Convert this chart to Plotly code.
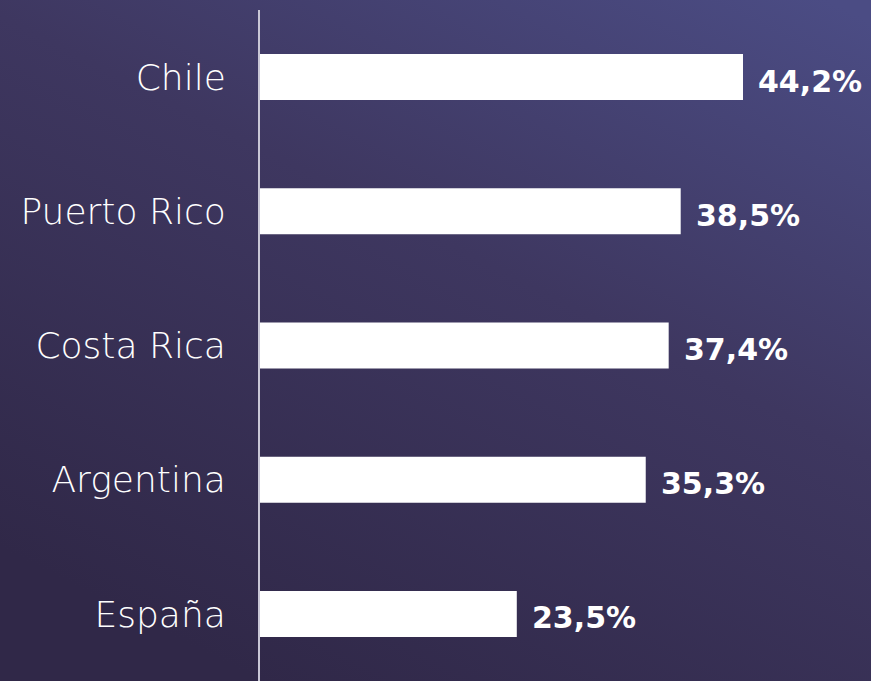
import base64
import plotly.graph_objects as go

countries = ["Chile", "Puerto Rico", "Costa Rica", "Argentina", "España"]
values = [44.2, 38.5, 37.4, 35.3, 23.5]
labels = ["44,2%", "38,5%", "37,4%", "35,3%", "23,5%"]

W, H = 871, 681
ML, MR, MT, MB = 260, 0, 10, 0

svg = f'''<svg xmlns="http://www.w3.org/2000/svg" width="{W}" height="{H}" viewBox="0 0 {W} {H}" preserveAspectRatio="none">
<defs><linearGradient id="g" x1="0.95" y1="0" x2="0.3" y2="1">
<stop offset="0" stop-color="#4b4c84"/>
<stop offset="0.45" stop-color="#3e3760"/>
<stop offset="1" stop-color="#302848"/>
</linearGradient></defs>
<rect width="{W}" height="{H}" fill="url(#g)"/></svg>'''
src = "data:image/svg+xml;base64," + base64.b64encode(svg.encode()).decode()

pw = W - ML - MR
ph = H - MT - MB

fig = go.Figure()
fig.add_trace(go.Bar(
    x=values, y=countries, orientation="h",
    marker=dict(color="#ffffff", line=dict(width=0)),
    hoverinfo="skip",
))

for c, v, t in zip(countries, values, labels):
    fig.add_annotation(
        x=v, y=c, text=t, showarrow=False, xanchor="left", yanchor="middle",
        xshift=13, yshift=-4,
        font=dict(family="'DejaVu Sans', sans-serif", size=30, color="#ffffff", weight="bold"),
    )

fig.add_layout_image(dict(
    source=src, xref="paper", yref="paper",
    x=-ML / pw, y=1 + MT / ph, sizex=W / pw, sizey=H / ph,
    xanchor="left", yanchor="top", sizing="stretch", layer="below",
))

fig.update_layout(
    width=W, height=H,
    margin=dict(l=ML, r=MR, t=MT, b=MB, pad=0),
    paper_bgcolor="#3c355c",
    plot_bgcolor="rgba(0,0,0,0)",
    bargap=0.657,
    showlegend=False,
    xaxis=dict(range=[0, pw / (483 / 44.2)], visible=False, fixedrange=True),
    yaxis=dict(
        categoryorder="array", categoryarray=countries,
        range=[4.5, -0.5],
        showline=True, linecolor="#c9c7d6", linewidth=2,
        showgrid=False, zeroline=False, ticks="",
        ticklabelstandoff=25,
        tickfont=dict(family="'DejaVu Sans', sans-serif", size=36, color="#ffffff", weight=300),
        fixedrange=True,
    ),
)

fig.write_html(
    "out.html",
    config={"displayModeBar": False},
    post_script="document.body.style.margin='0';document.body.style.overflow='hidden';",
)
